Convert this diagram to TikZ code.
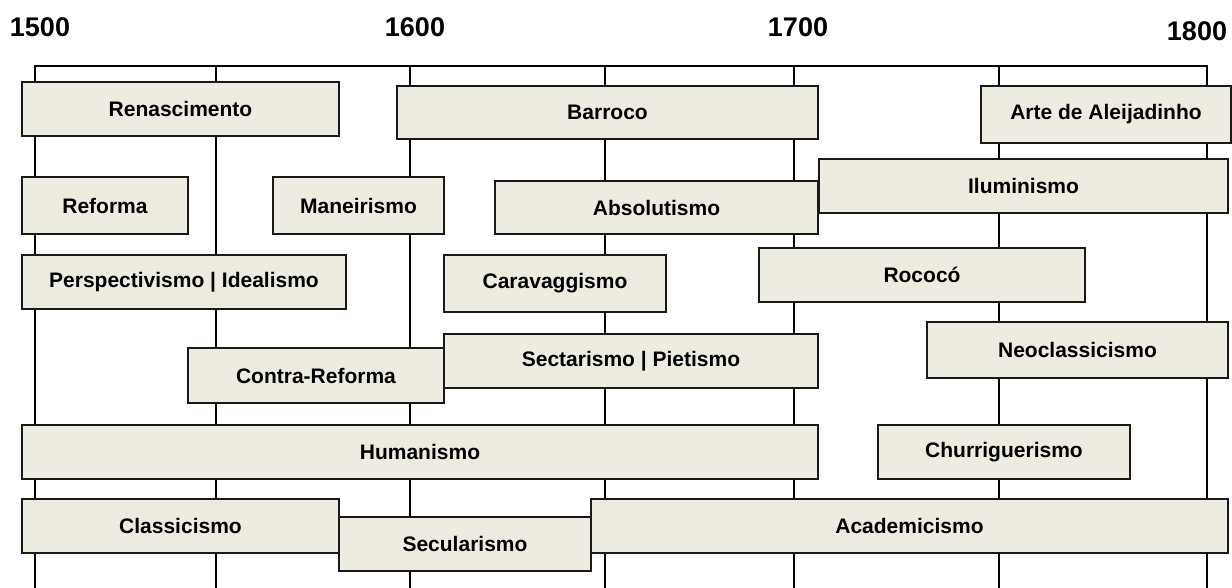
\documentclass[tikz,border=0pt]{standalone}
\usepackage{fontspec}
\setmainfont{Liberation Sans}
\usepackage{xcolor}
\usetikzlibrary{positioning}
\definecolor{tanbg}{RGB}{238, 236, 225}

\begin{document}
\begin{tikzpicture}[
    x=1pt, y=-1pt, % one unit = one pixel of the layout
    period/.style={ % Style for the period boxes
        rectangle,
        draw=black!90,
        line width=1.4pt,
        fill=tanbg,
        inner sep=0pt,
        text centered,
        font=\fontsize{21}{24}\selectfont\bfseries
    },
    year/.style={font=\fontsize{27}{30}\selectfont\bfseries},
    grid/.style={line width=1.4pt, draw=black}
]
\useasboundingbox (0,0) rectangle (1232,588);

% Year labels
\node[year] (y1500) at (40,27) {1500};
\node[year] (y1600) at (415,27) {1600};
\node[year] (y1700) at (798,27) {1700};
\node[year] (y1800) at (1197,31) {1800};

% Time axis coordinates
\coordinate (t1500) at (35,66);    \coordinate (b1500) at (35,588);
\coordinate (t1550) at (216,66);   \coordinate (b1550) at (216,588);
\coordinate (t1600) at (410,66);   \coordinate (b1600) at (410,588);
\coordinate (t1650) at (605,66);   \coordinate (b1650) at (605,588);
\coordinate (t1700) at (794,66);   \coordinate (b1700) at (794,588);
\coordinate (t1750) at (999,66);   \coordinate (b1750) at (999,588);
\coordinate (t1800) at (1207,66);  \coordinate (b1800) at (1207,588);

% Axis and grid lines (behind the boxes)
\draw[grid, line width=2pt] (b1500) -- (t1500) -- (t1800) -- (b1800);
\draw[grid] (t1550) -- (b1550);
\draw[grid] (t1600) -- (b1600);
\draw[grid] (t1650) -- (b1650);
\draw[grid] (t1700) -- (b1700);
\draw[grid] (t1750) -- (b1750);

% First row
\node[period, minimum width=317, minimum height=54] (renasc) at (180.5,109) {Renascimento};
\node[period, minimum width=421, minimum height=53] (barroco) at (607.5,112.5) {Barroco};
\node[period, minimum width=250, minimum height=57] (aleij) at (1106,114.5) {Arte de Aleijadinho};

% Second row
\node[period, minimum width=166, minimum height=57] (reforma) at (105,205.5) {Reforma};
\node[period, minimum width=171, minimum height=57] (maneir) at (358.5,205.5) {Maneirismo};
\node[period, minimum width=323, minimum height=53] (absol) at (656.5,207.5) {Absolutismo};
\node[period, minimum width=409, minimum height=54] (ilumin) at (1023.5,186) {Iluminismo};

% Third row
\node[period, minimum width=324, minimum height=54] (perspec) at (184,282) {Perspectivismo | Idealismo};
\node[period, minimum width=222, minimum height=57] (carav) at (555,283.5) {Caravaggismo};
\node[period, minimum width=326, minimum height=54] (rococo) at (922,275) {Rococó};

% Fourth row
\node[period, minimum width=256, minimum height=55] (contra) at (316,375.5) {Contra-Reforma};
\node[period, minimum width=374, minimum height=54] (sectar) at (631,361) {Sectarismo | Pietismo};
\node[period, minimum width=301, minimum height=56] (neocl) at (1077.5,350) {Neoclassicismo};

% Fifth row
\node[period, minimum width=796, minimum height=54] (human) at (420,452) {Humanismo};
\node[period, minimum width=252, minimum height=54] (churr) at (1004,452) {Churriguerismo};

% Last row
\node[period, minimum width=317, minimum height=54] (classic) at (180.5,526) {Classicismo};
\node[period, minimum width=252, minimum height=54] (secul) at (465,544) {Secularismo};
\node[period, minimum width=637, minimum height=54] (academ) at (909.5,526) {Academicismo};

\end{tikzpicture}
\end{document}
